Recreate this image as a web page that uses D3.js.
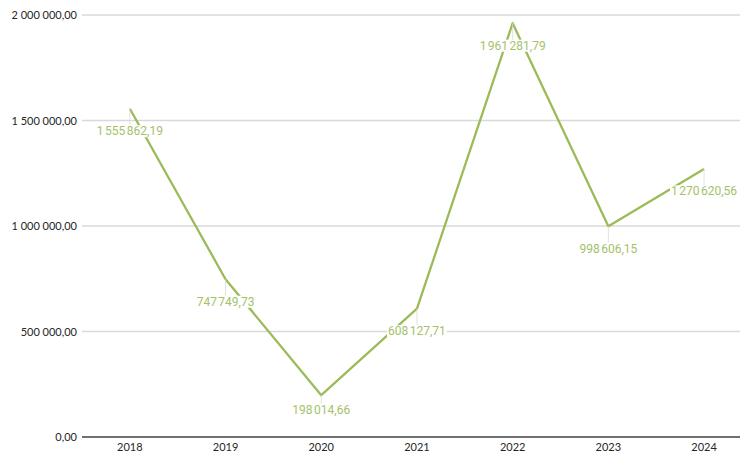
<!DOCTYPE html>
<html>
<head>
<meta charset="utf-8">
<script src="https://cdn.jsdelivr.net/npm/d3@7"></script>
<style>
  body { margin: 0; background: #fff; }
  svg { display: block; }
</style>
</head>
<body>
<div id="chart"></div>
<script>
var years  = ["2018", "2019", "2020", "2021", "2022", "2023", "2024"],
	values = [1555862.19, 747749.73, 198014.66, 608127.71, 1961281.79, 998606.15, 1270620.56],
	yTicks = [0, 500000, 1000000, 1500000, 2000000];

var w = 740,
	h = 452,
	plotLeft = 82,
	plotTop = 15,
	plotBottom = 437,
	bandW = 95.7; // width of one category slot; the last one runs off the page

var cLine  = "#9BBB59",
	cLabel = "#A3C26A",
	cGrid  = "#D9D9D9",
	cAxis  = "#404040";

// numbers like 1 555 862,19 (narrow spaces between groups)
var fmtNum = function(v){
	var s = d3.format(",.2f")(v)
	return s.replace(/,/g, "\u202F").replace(".", ",")
}

var svg = d3.select("#chart")
				.append("svg")
				.attr("width", w)
				.attr("height", h)

var x = d3.scaleBand()
	.domain(years)
	.range([plotLeft, plotLeft + bandW * years.length])

var y = d3.scaleLinear()
	.domain([0, 2000000])
	.range([plotBottom, plotTop])

// gridlines
svg.selectAll(".grid")
	.data(yTicks.slice(1))
	.enter()
	.append("line")
	.attr("class", "grid")
	.attr("x1", plotLeft)
	.attr("x2", w)
	.attr("y1", function(d){ return y(d) })
	.attr("y2", function(d){ return y(d) })
	.attr("stroke", cGrid)
	.attr("stroke-width", 1.3)

// y labels
svg.selectAll(".ylab")
	.data(yTicks)
	.enter()
	.append("text")
	.attr("class", "ylab")
	.attr("x", plotLeft - 5)
	.attr("y", function(d){ return y(d) + 4 })
	.attr("text-anchor", "end")
	.attr("font-family", "Lato, 'Open Sans', sans-serif")
	.attr("font-size", 11)
	.attr("fill", "#262626")
	.text(fmtNum)

// x axis
var xAxis = svg.append("g")
	.attr("transform", "translate(0," + plotBottom + ")")
	.call(d3.axisBottom(x).tickSize(0).tickPadding(6))
xAxis.select(".domain")
	.attr("d", "M" + plotLeft + ",0H" + w)
	.attr("stroke", cAxis)
	.attr("stroke-width", 1.3)
xAxis.selectAll("text")
	.attr("font-family", "Lato, 'Open Sans', sans-serif")
	.attr("font-size", 11)
	.attr("fill", "#262626")

var cx = function(d, i){ return x(years[i]) + x.bandwidth() / 2 }

var line = d3.line()
	.x(cx)
	.y(function(d){ return y(d) })

svg.append("path")
	.datum(values)
	.attr("d", line)
	.attr("fill", "none")
	.attr("stroke", cLine)
	.attr("stroke-width", 2.3)
	.attr("stroke-linejoin", "round")

// label sits ~22px under its point, pushed up if it would hit the axis
var labY = function(d){ return Math.min(y(d) + 22, plotBottom - 28) }

// leader lines
svg.selectAll(".leader")
	.data(values)
	.enter()
	.append("line")
	.attr("class", "leader")
	.attr("x1", cx)
	.attr("x2", cx)
	.attr("y1", function(d){ return y(d) })
	.attr("y2", labY)
	.attr("stroke", "#D9D9D9")
	.attr("stroke-width", 0.8)

var labs = svg.selectAll(".dlab")
	.data(values)
	.enter()
	.append("g")
	.attr("class", "dlab")
	.attr("transform", function(d, i){ return "translate(" + cx(d, i) + "," + labY(d) + ")" })

labs.append("text")
	.attr("text-anchor", "middle")
	.attr("y", 4.5)
	.attr("font-family", "Roboto, 'Open Sans', sans-serif")
	.attr("font-size", 12)
	.attr("fill", cLabel)
	.text(fmtNum)

// white box behind each label
labs.each(function(){
	var g = d3.select(this)
	var bb = g.select("text").node().getBBox()
	g.insert("rect", "text")
		.attr("x", bb.x - 1)
		.attr("y", bb.y + 1)
		.attr("width", bb.width + 2)
		.attr("height", bb.height - 2)
		.attr("fill", "white")
})
</script>
</body>
</html>
